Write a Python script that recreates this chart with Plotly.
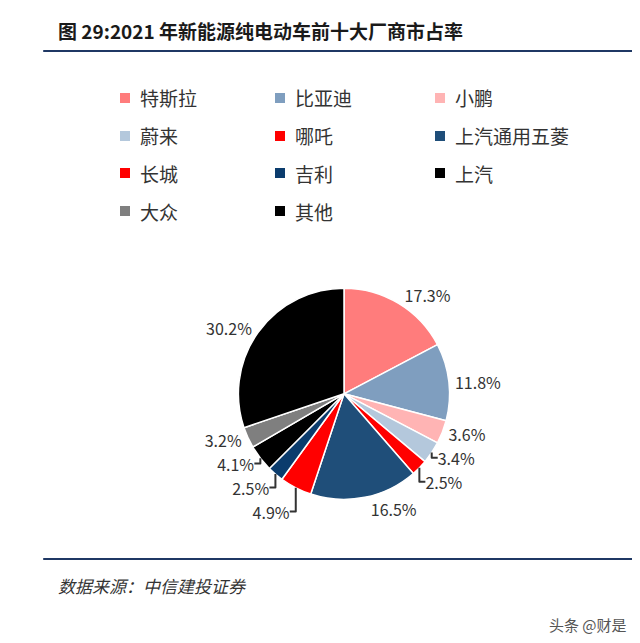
import plotly.graph_objects as go

# market share of top-10 BEV makers, 2021
makers = ['特斯拉', '比亚迪', '小鹏', '蔚来', '哪吒', '上汽通用五菱',
          '长城', '吉利', '上汽', '大众', '其他']
shares = [17.3, 11.8, 3.6, 3.4, 2.5, 16.5, 4.9, 2.5, 4.1, 3.2, 30.2]
colors = ['#FF7C7C', '#7F9EBF', '#FFB4B4', '#B4C8DC', '#FF0000', '#1F4E79',
          '#FF0000', '#0B3C6D', '#000000', '#7F7F7F', '#000000']

pie = go.Pie(labels=makers, values=shares, sort=False, direction='clockwise',
             rotation=0, showlegend=False,
             marker=dict(colors=colors, line=dict(color='white', width=1.5)),
             texttemplate='%{value:.1f}%', textposition='outside',
             textfont=dict(size=16, color='#333333'),
             domain=dict(x=[0.36, 0.69], y=[0.235, 0.565]))

W, H = 640, 643
shapes = [
    dict(type='line', xref='paper', yref='paper', x0=0.055, x1=1, y0=1 - 43 / H, y1=1 - 43 / H,
         line=dict(color='#1F3864', width=2)),
    dict(type='line', xref='paper', yref='paper', x0=0.055, x1=1, y0=1 - 551 / H, y1=1 - 551 / H,
         line=dict(color='#1F3864', width=2)),
]
annotations = [
    dict(text='<b>图 29:2021 年新能源纯电动车前十大厂商市占率</b>', xref='paper', yref='paper',
         x=0.075, y=1 - 22 / H, xanchor='left', yanchor='middle', showarrow=False,
         font=dict(size=19, color='#1a1a1a')),
    dict(text='<i>数据来源：中信建投证券</i>', xref='paper', yref='paper',
         x=0.075, y=1 - 577 / H, xanchor='left', yanchor='middle', showarrow=False,
         font=dict(size=17, color='#333333')),
    dict(text='头条 @财是', xref='paper', yref='paper',
         x=0.97, y=1 - 616 / H, xanchor='right', yanchor='middle', showarrow=False,
         font=dict(size=15, color='#555555')),
]

# legend: 3 columns, 4 rows
col_x = [117, 272, 432]
row_y = [98, 136, 173, 211]
for i, (name, c) in enumerate(zip(makers, colors)):
    cx, cy = col_x[i % 3], row_y[i // 3] - 8
    shapes.append(dict(type='rect', xref='paper', yref='paper',
                       x0=(cx - 5) / W, x1=(cx + 5) / W, y0=1 - (cy + 5) / H, y1=1 - (cy - 5) / H,
                       fillcolor=c, line=dict(width=0)))
    annotations.append(dict(text=name, xref='paper', yref='paper', x=(cx + 13) / W, y=1 - cy / H,
                            xanchor='left', yanchor='middle', showarrow=False,
                            font=dict(size=19, color='#333333')))

layout = go.Layout(width=W, height=H, margin=dict(l=0, r=0, t=0, b=0),
                   paper_bgcolor='white', font=dict(family='Noto Sans CJK SC'),
                   shapes=shapes, annotations=annotations)

fig = go.Figure(data=[pie], layout=layout)
fig.write_html('out.html')
